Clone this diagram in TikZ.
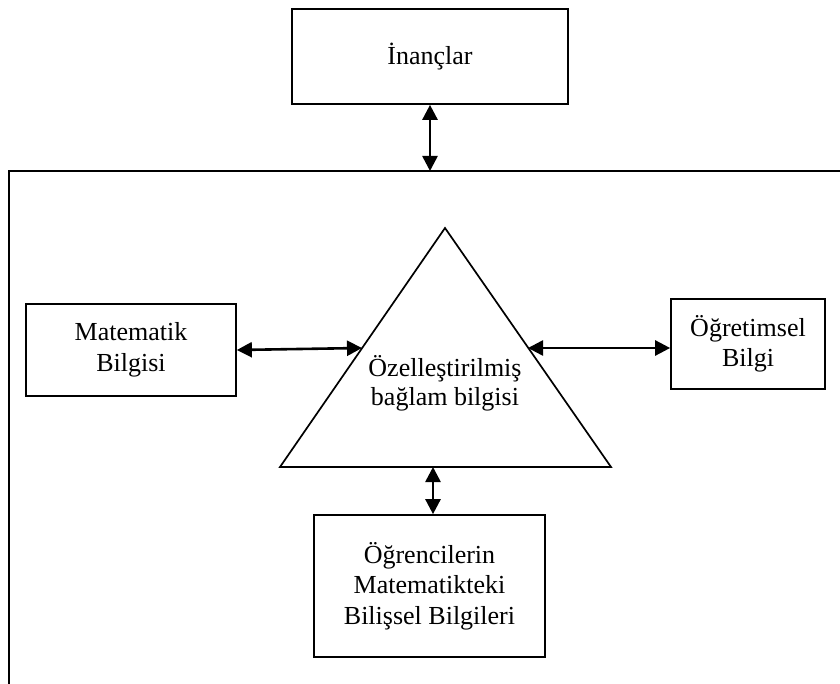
\documentclass[tikz,border=0pt]{standalone}
\usepackage{fontspec}
\setmainfont{Liberation Serif}
\usetikzlibrary{arrows.meta,calc}
\begin{document}
\begin{tikzpicture}[x=1pt,y=-1pt,
  box/.style={draw,line width=1.7pt,align=center,inner sep=0pt,
    font=\fontsize{26}{30.5}\selectfont},
  link/.style={line width=2.6pt,{Triangle[length=15pt,width=15pt]}-{Triangle[length=15pt,width=15pt]}},
  edge/.style={line width=1.7pt,line join=miter}]
\useasboundingbox (0,0) rectangle (840,684);

% outer frame (top and left sides)
\coordinate (frameR) at (840,171);
\coordinate (frameC) at (9,171);
\coordinate (frameB) at (9,684);
\draw[edge] (frameR) -- (frameC) -- (frameB);

% boxes
\node[box,minimum width=276pt,minimum height=95pt] (beliefs) at (430,56.5) {İnançlar};
\node[box,minimum width=210pt,minimum height=92pt] (math) at (131,350) {Matematik\\Bilgisi};
\node[box,minimum width=154pt,minimum height=90pt] (ped) at (748,344) {Öğretimsel\\Bilgi};
\node[box,minimum width=231pt,minimum height=142pt] (stud) at (429.5,586) {Öğrencilerin\\Matematikteki\\Bilişsel Bilgileri};

% central triangle
\coordinate (apex) at (445,228);
\coordinate (baseL) at (280,467);
\coordinate (baseR) at (611,467);
\draw[edge] (apex) -- (baseL) -- (baseR) -- cycle;
\node[align=center,inner sep=0pt,font=\fontsize{26}{29}\selectfont] (core) at (445,383)
  {Özelleştirilmiş\\bağlam bilgisi};

% points on the triangle where the links meet it
\coordinate (triL) at (362,348);
\coordinate (triR) at (528,348);
\coordinate (triB) at (433,467);

% links
\draw[link] (beliefs.south) -- (beliefs.south |- frameC);
\draw[link] (math.east |- 0,350) -- (triL);
\draw[link] (triR) -- (ped.west |- triR);
\draw[link] (triB) -- (triB |- stud.north);
\end{tikzpicture}
\end{document}
